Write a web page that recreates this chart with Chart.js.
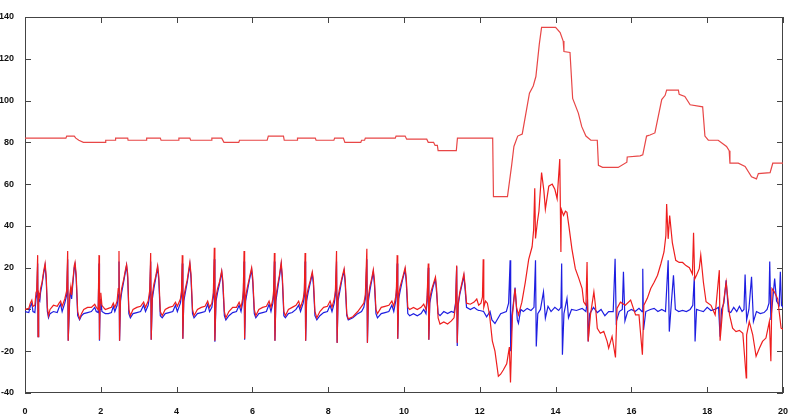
<!DOCTYPE html>
<html>
<head>
<meta charset="utf-8">
<script src="https://cdn.jsdelivr.net/npm/chart.js@4"></script>
<style>
  body { margin: 0; background: #fff; }
  #chart { display: block; }
</style>
</head>
<body>
<canvas id="chart" width="797" height="414"></canvas>
<script>
// Axis ticks
const xTicks = [0, 2, 4, 6, 8, 10, 12, 14, 16, 18, 20];
const yTicks = [-40, -20, 0, 20, 40, 60, 80, 100, 120, 140];

// Heart rate trace (top step line), [time, value]
const heartRate = [
  [0, 82], [1.08, 82], [1.1, 83], [1.3, 83], [1.34, 82], [1.42, 81], [1.54, 80], [2.12, 80],
  [2.13, 81], [2.38, 81], [2.39, 82], [2.71, 82], [2.72, 81], [3.2, 81], [3.21, 82], [3.57, 82],
  [3.59, 81], [4.05, 81], [4.06, 82], [4.35, 82], [4.37, 81], [4.91, 81], [4.93, 82], [5.19, 82],
  [5.25, 80], [5.64, 80], [5.66, 81], [6.39, 81], [6.42, 83], [6.82, 83], [6.84, 81], [7.18, 81],
  [7.19, 82], [7.66, 82], [7.68, 81], [8.15, 81], [8.17, 82], [8.4, 82], [8.44, 80], [8.86, 80],
  [8.88, 81], [8.96, 81], [8.98, 82], [9.77, 82], [9.79, 83], [10.03, 83], [10.07, 81.5], [10.6, 81.5],
  [10.64, 80], [10.78, 80], [10.82, 78.5], [10.88, 78.5], [10.9, 76], [11.38, 76], [11.41, 82], [12.34, 82],
  [12.36, 54], [12.73, 54], [12.84, 69], [12.9, 78], [13.0, 83], [13.12, 84], [13.31, 103.5], [13.41, 107],
  [13.48, 111.5], [13.57, 127], [13.63, 135], [14.0, 135], [14.12, 132.5], [14.2, 128.5], [14.22, 123.5], [14.38, 123],
  [14.45, 101], [14.6, 94], [14.69, 87.5], [14.8, 83], [14.93, 81], [15.1, 81], [15.13, 69], [15.24, 68],
  [15.65, 68], [15.88, 70.5], [15.89, 73], [16.23, 73.5], [16.3, 74], [16.4, 83], [16.49, 83.5], [16.62, 84.5],
  [16.8, 100.5], [16.89, 102.5], [16.93, 105], [17.24, 105], [17.26, 103], [17.41, 102], [17.55, 98], [17.88, 97],
  [17.94, 83], [18.03, 81], [18.29, 81], [18.51, 78], [18.58, 76], [18.6, 70], [18.82, 70], [19.0, 68.5],
  [19.17, 63.5], [19.3, 62.5], [19.35, 65], [19.66, 65.5], [19.73, 70], [20, 70]
];

// Red ECG lead
const redEcg = [
  [0, 0], [0.1, 0.5], [0.14, 3], [0.18, 4.5], [0.21, 1.5], [0.26, 2], [0.29, 8], [0.31, 9], [0.334, 26], [0.345, -13],
  [0.36, 8], [0.39, 6], [0.41, 10], [0.45, 13], [0.49, 18], [0.53, 22], [0.56, 16], [0.59, 1], [0.62, -3], [0.66, 0],
  [0.75, 2], [0.85, 1.5], [0.9, 3], [0.94, 4], [0.98, 1.5], [1.05, 5], [1.1, 9], [1.126, 28], [1.14, -15], [1.18, 7],
  [1.21, 11], [1.23, 7], [1.26, 13], [1.3, 21], [1.32, 22.5], [1.35, 17], [1.39, -1], [1.44, -4.5], [1.49, -2], [1.55, 0],
  [1.65, 1], [1.75, 1], [1.84, 2.5], [1.88, 1], [1.93, 0], [1.953, 26], [1.965, -14.5], [1.98, 3], [2.0, 8], [2.03, 2],
  [2.07, 1], [2.12, 0], [2.2, 0.5], [2.28, 1], [2.33, 3], [2.37, 1], [2.43, 4], [2.46, 10], [2.48, 28], [2.495, -15],
  [2.52, 6], [2.55, 10], [2.6, 14], [2.65, 19], [2.68, 21.5], [2.71, 17], [2.74, 0], [2.78, -3], [2.85, 0], [2.95, 1],
  [3.05, 1.5], [3.13, 3.5], [3.18, 1], [3.25, 4], [3.29, 9], [3.316, 27], [3.33, -14.5], [3.36, 7], [3.4, 12], [3.45, 16],
  [3.5, 21], [3.53, 16], [3.57, -1], [3.62, -3], [3.7, 0], [3.8, 1], [3.9, 1.5], [3.97, 3.5], [4.02, 1.5], [4.1, 5],
  [4.13, 9], [4.15, 26], [4.165, -14], [4.19, 6], [4.23, 10], [4.28, 14], [4.35, 22.5], [4.38, 17], [4.42, 0], [4.46, -3],
  [4.55, 0], [4.65, 1], [4.75, 1.5], [4.82, 4], [4.87, 1], [4.93, 3], [4.97, 8], [4.995, 29.5], [5.01, -15], [5.04, 6],
  [5.08, 10], [5.13, 13], [5.19, 18.5], [5.22, 14], [5.26, -1], [5.3, -4], [5.38, -1], [5.48, 1], [5.58, 1], [5.65, 3.5],
  [5.7, 1], [5.74, 5], [5.76, 9], [5.78, 28], [5.795, -14], [5.82, 6], [5.86, 10], [5.92, 15], [5.98, 20], [6.01, 15],
  [6.05, 0], [6.09, -3], [6.17, 0], [6.27, 1], [6.37, 1.5], [6.44, 4], [6.49, 1], [6.54, 5], [6.56, 9], [6.58, 27],
  [6.595, -15], [6.62, 6], [6.66, 11], [6.71, 16], [6.76, 22.5], [6.79, 16], [6.83, -1], [6.87, -3], [6.95, 0], [7.05, 1],
  [7.15, 2], [7.22, 4], [7.27, 1], [7.34, 5], [7.37, 9], [7.39, 27], [7.405, -15], [7.43, 6], [7.47, 10], [7.53, 14],
  [7.58, 18], [7.61, 14], [7.65, -1], [7.7, -4], [7.78, -1], [7.88, 1], [7.98, 1.5], [8.05, 4], [8.1, 1], [8.16, 5],
  [8.19, 9], [8.22, 28], [8.235, -16], [8.26, 6], [8.3, 10], [8.36, 15], [8.42, 19.5], [8.45, 14], [8.49, -2], [8.53, -4.5],
  [8.65, -3.5], [8.78, -1], [8.88, 1.5], [8.94, 3], [8.98, 7], [9.02, 29], [9.035, -16], [9.06, 6], [9.1, 11], [9.15, 15],
  [9.19, 19], [9.22, 14], [9.26, 0], [9.3, -2], [9.4, 1], [9.5, 1.5], [9.6, 2], [9.68, 4], [9.73, 1.5], [9.78, 6],
  [9.8, 10], [9.82, 26], [9.835, -14], [9.86, 7], [9.9, 11], [9.96, 15], [10.03, 20], [10.06, 15], [10.1, 1], [10.15, 0],
  [10.25, 1], [10.35, 0], [10.45, 1], [10.52, 2.5], [10.58, 0], [10.61, 6], [10.64, 22], [10.655, -14.5], [10.68, 5], [10.72, 9],
  [10.77, 12], [10.83, 15.5], [10.86, 10], [10.9, -4], [10.95, -7], [11.05, -6], [11.15, -7], [11.25, -5.5], [11.32, -4], [11.36, 2],
  [11.39, 21], [11.405, -16], [11.43, 3], [11.47, 8], [11.52, 12], [11.58, 17], [11.61, 12], [11.65, 3], [11.75, 2.5], [11.85, 3.5],
  [11.92, 5], [11.97, 2], [12.03, 3], [12.07, 6], [12.09, 24], [12.105, 1], [12.15, 4], [12.2, 3], [12.26, -3], [12.33, -15],
  [12.4, -20], [12.49, -32], [12.55, -31], [12.62, -29], [12.71, -26], [12.78, -18], [12.81, -35], [12.86, -3], [12.93, 10], [12.97, 1],
  [13.02, -2.6], [13.11, 3.5], [13.2, 13], [13.29, 24], [13.38, 30], [13.42, 38], [13.45, 58], [13.47, 34], [13.52, 42], [13.56, 47],
  [13.63, 65.5], [13.69, 57], [13.73, 48], [13.82, 59], [13.91, 60], [13.98, 57.5], [14.04, 53], [14.11, 72], [14.14, 27.5], [14.15, 48],
  [14.21, 45], [14.26, 47], [14.3, 46.5], [14.35, 40], [14.43, 29], [14.52, 19.5], [14.61, 15], [14.7, 10], [14.74, 3.7], [14.8, 2],
  [14.83, 22.7], [14.86, -15.3], [14.92, -2.6], [15.01, 8.4], [15.05, 2], [15.1, -9], [15.18, -11.4], [15.27, -10.5], [15.36, -15.3], [15.4, -18.5],
  [15.49, -12.9], [15.58, -23], [15.62, 0.5], [15.71, 3.5], [15.84, 2], [15.98, 4.5], [16.11, -2.6], [16.2, -2.6], [16.29, -21.7], [16.33, 2],
  [16.42, 5.3], [16.51, 10], [16.6, 13], [16.69, 16.4], [16.78, 22], [16.86, 27.5], [16.91, 35.4], [16.93, 50.5], [16.97, 33.8], [17.01, 45],
  [17.08, 32], [17.17, 23.5], [17.26, 22.5], [17.35, 22.5], [17.44, 21], [17.53, 20], [17.61, 17], [17.64, 36.7], [17.67, 14.5], [17.72, 16.5],
  [17.79, 19.5], [17.83, 26], [17.9, 13], [17.97, 3.7], [18.1, 2], [18.21, -2.6], [18.32, 18.8], [18.34, -15], [18.41, 0.5], [18.5, 13],
  [18.59, -2.6], [18.67, -9], [18.76, -10.6], [18.85, -10], [18.94, -11.4], [19.03, -32.8], [19.04, -12.2], [19.11, -5.8], [19.2, -12], [19.29, -22.4],
  [19.38, -18.5], [19.46, -15.3], [19.55, -13.7], [19.64, -5.8], [19.68, -24.8], [19.71, 10], [19.77, 8.5], [19.86, 5], [19.95, -9], [20, -9.5]
];

// Blue ECG lead
const blueEcg = [
  [0, -1], [0.1, -1.5], [0.14, 1.5], [0.18, 3], [0.21, -1], [0.26, -1.5], [0.29, 5], [0.31, 7], [0.334, 22], [0.345, -13],
  [0.36, 5], [0.39, 4], [0.41, 8], [0.45, 12], [0.49, 17], [0.53, 21], [0.56, 14], [0.59, -1], [0.62, -4], [0.66, -2],
  [0.75, -1], [0.85, -1.5], [0.9, 1], [0.94, 2.5], [0.98, -1], [1.05, 3], [1.1, 7], [1.126, 24], [1.14, -15], [1.18, 5],
  [1.21, 9], [1.23, 5], [1.26, 12], [1.3, 20], [1.32, 21.5], [1.35, 15], [1.39, -3], [1.44, -5], [1.49, -3], [1.55, -2],
  [1.65, -1.5], [1.75, -1], [1.84, 1], [1.88, -1], [1.93, -1.5], [1.953, 22], [1.965, -15], [1.98, 0], [2.0, 5], [2.03, -1],
  [2.07, -1.5], [2.12, -2], [2.2, -2], [2.28, -1.5], [2.33, 1.5], [2.37, -1], [2.43, 2], [2.46, 7], [2.48, 23], [2.495, -15],
  [2.52, 4], [2.55, 8], [2.6, 13], [2.65, 18], [2.68, 21], [2.71, 15], [2.74, -2], [2.78, -4], [2.85, -2], [2.95, -1.5],
  [3.05, -1], [3.13, 2], [3.18, -1], [3.25, 2], [3.29, 7], [3.316, 23], [3.33, -14.5], [3.36, 5], [3.4, 10], [3.45, 15],
  [3.5, 20], [3.53, 14], [3.57, -3], [3.62, -4], [3.7, -2], [3.8, -1.5], [3.9, -1], [3.97, 2], [4.02, -1], [4.1, 3],
  [4.13, 7], [4.15, 22], [4.165, -14], [4.19, 4], [4.23, 8], [4.28, 13], [4.35, 21.5], [4.38, 15], [4.42, -2], [4.46, -4],
  [4.55, -2], [4.65, -1.5], [4.75, -1], [4.82, 2.5], [4.87, -1], [4.93, 1], [4.97, 6], [4.995, 24], [5.01, -15.5], [5.04, 4],
  [5.08, 8], [5.13, 12], [5.19, 18], [5.22, 12], [5.26, -3], [5.3, -5], [5.38, -3], [5.48, -1.5], [5.58, -1], [5.65, 2],
  [5.7, -1], [5.74, 3], [5.76, 7], [5.78, 23], [5.795, -14.5], [5.82, 4], [5.86, 8], [5.92, 14], [5.98, 19], [6.01, 13],
  [6.05, -2], [6.09, -4], [6.17, -2], [6.27, -1.5], [6.37, -1], [6.44, 2.5], [6.49, -1], [6.54, 3], [6.56, 7], [6.58, 23],
  [6.595, -15], [6.62, 4], [6.66, 9], [6.71, 15], [6.76, 21.5], [6.79, 14], [6.83, -3], [6.87, -4], [6.95, -2], [7.05, -1.5],
  [7.15, 0], [7.22, 2], [7.27, -1], [7.34, 3], [7.37, 7], [7.39, 23], [7.405, -15], [7.43, 4], [7.47, 8], [7.53, 13],
  [7.58, 17], [7.61, 12], [7.65, -3], [7.7, -5], [7.78, -3], [7.88, -1.5], [7.98, -1], [8.05, 2], [8.1, -1], [8.16, 3],
  [8.19, 7], [8.22, 23], [8.235, -16], [8.26, 4], [8.3, 8], [8.36, 14], [8.42, 18.5], [8.45, 12], [8.49, -3], [8.53, -5],
  [8.65, -4], [8.78, -2], [8.88, -1], [8.94, 1], [8.98, 5], [9.02, 24], [9.035, -16], [9.06, 4], [9.1, 9], [9.15, 14],
  [9.19, 18], [9.22, 12], [9.26, -2], [9.3, -4], [9.4, -2], [9.5, -1.5], [9.6, -1], [9.68, 2], [9.73, -1], [9.78, 4],
  [9.8, 8], [9.82, 22], [9.835, -14], [9.86, 5], [9.9, 9], [9.96, 14], [10.03, 19], [10.06, 13], [10.1, -2], [10.15, -3],
  [10.25, -2], [10.35, -3], [10.45, -2], [10.52, 0], [10.58, -2], [10.61, 4], [10.64, 20], [10.655, -14.5], [10.68, 3], [10.72, 7],
  [10.77, 11], [10.83, 14.5], [10.86, 8], [10.9, -2], [10.95, -3], [11.05, -1], [11.15, -2], [11.25, -1], [11.32, -1.5], [11.36, 3],
  [11.39, 20.5], [11.405, -17.5], [11.43, 2], [11.47, 7], [11.52, 11], [11.58, 16], [11.61, 10], [11.65, 1], [11.75, 0], [11.85, 1],
  [11.92, 0], [11.97, -0.5], [12.0, -0.5], [12.1, -1], [12.18, -3.5], [12.27, -1], [12.32, -5], [12.4, -6.7], [12.55, -2], [12.7, -1],
  [12.76, 3], [12.8, 23.5], [12.815, -20], [12.85, -3], [12.93, 10.5], [12.99, -5], [13.02, -6.6], [13.08, 0], [13.15, -1], [13.25, 0.5],
  [13.35, -0.5], [13.43, 1], [13.47, 23.5], [13.49, -17.7], [13.53, -2], [13.6, 0], [13.68, 8.4], [13.73, -4.2], [13.8, 1.5], [13.88, -1],
  [13.98, 1], [14.08, -0.5], [14.14, 1], [14.16, 22], [14.18, -21.7], [14.22, -2], [14.3, 5.3], [14.34, -4], [14.42, 0], [14.55, -0.5],
  [14.7, 0.5], [14.8, -1], [14.84, 5], [14.86, -15.3], [14.9, -2], [15.0, 1], [15.1, -1.5], [15.2, 0], [15.3, -3], [15.4, -1],
  [15.52, -1], [15.57, 24.3], [15.6, -5.8], [15.68, -1], [15.76, 0], [15.79, 18], [15.83, -5.5], [15.9, -1], [16.0, 0], [16.1, -1],
  [16.2, 0.5], [16.28, -1], [16.3, 19.5], [16.32, -9.8], [16.38, -1], [16.5, 0], [16.6, 0.5], [16.7, -1], [16.8, 0], [16.9, -1],
  [16.97, 23.5], [17.0, -10.6], [17.05, 2], [17.11, 16.4], [17.16, 0], [17.25, -1], [17.35, -0.5], [17.45, -1], [17.55, 0], [17.62, 2],
  [17.66, 15.6], [17.68, -15.3], [17.72, 0], [17.8, -0.5], [17.9, -1], [18.0, 1], [18.1, -0.5], [18.2, 0], [18.3, 1], [18.34, -13],
  [18.38, 0], [18.44, 3], [18.5, 14], [18.56, -1], [18.62, -1.5], [18.7, 1], [18.78, -1], [18.85, 1.5], [18.92, -1], [18.97, 0],
  [19.0, 16.7], [19.04, -5], [19.1, 0], [19.17, 15.6], [19.22, -5.8], [19.3, -1], [19.4, -2], [19.5, -1.5], [19.58, 0], [19.63, 3],
  [19.65, 23], [19.68, -5], [19.73, 5], [19.78, 14.8], [19.83, 4], [19.9, 2], [19.93, 18], [19.96, 2], [20, 1]
];

const toPoints = arr => arr.map(p => ({ x: p[0], y: p[1] }));

// Box with inward tick marks, like the original plot
const boxTicks = {
  id: "boxTicks",
  beforeDatasetsDraw(chart) {
    const { ctx, chartArea: a, scales } = chart;
    const len = 6;
    ctx.save();
    ctx.strokeStyle = "#444";
    ctx.lineWidth = 1;
    ctx.strokeRect(a.left + 0.5, a.top + 0.5, a.right - a.left - 1, a.bottom - a.top - 1);
    ctx.beginPath();
    xTicks.forEach(v => {
      const px = Math.round(scales.x.getPixelForValue(v)) + 0.5;
      ctx.moveTo(px, a.bottom); ctx.lineTo(px, a.bottom - len);
      ctx.moveTo(px, a.top); ctx.lineTo(px, a.top + len);
    });
    yTicks.forEach(v => {
      const py = Math.round(scales.y.getPixelForValue(v)) + 0.5;
      ctx.moveTo(a.left, py); ctx.lineTo(a.left + len, py);
      ctx.moveTo(a.right, py); ctx.lineTo(a.right - len, py);
    });
    ctx.stroke();
    ctx.restore();
  }
};

function lineSet(label, points, color, order, width) {
  return {
    label: label,
    data: toPoints(points),
    borderColor: color,
    borderWidth: width,
    showLine: true,
    pointRadius: 0,
    tension: 0,
    order: order
  };
}

new Chart(document.getElementById("chart"), {
  type: "scatter",
  data: {
    datasets: [
      lineSet("Heart rate", heartRate, "rgb(232,70,70)", 3, 1.2),
      lineSet("Lead 2", blueEcg, "rgb(30,30,225)", 2, 1.2),
      lineSet("Lead 1", redEcg, "rgb(238,30,30)", 1, 1.2)
    ]
  },
  options: {
    responsive: false,
    animation: false,
    devicePixelRatio: 1,
    layout: { padding: { top: 17, right: 14, left: 0, bottom: 0 } },
    plugins: { legend: { display: false }, tooltip: { enabled: false } },
    scales: {
      x: {
        type: "linear",
        min: 0, max: 20,
        afterFit: s => { s.height = 21; },
        afterBuildTicks: s => { s.ticks = xTicks.map(v => ({ value: v })); },
        grid: { display: false },
        border: { display: false },
        ticks: { padding: 5, color: "#111", font: { family: "Liberation Sans", size: 9, weight: "bold" } }
      },
      y: {
        type: "linear",
        min: -40, max: 140,
        afterFit: s => { s.width = 25; },
        afterBuildTicks: s => { s.ticks = yTicks.map(v => ({ value: v })); },
        grid: { display: false },
        border: { display: false },
        ticks: { padding: 3, color: "#111", font: { family: "Liberation Sans", size: 9, weight: "bold" } }
      }
    }
  },
  plugins: [boxTicks]
});
</script>
</body>
</html>
